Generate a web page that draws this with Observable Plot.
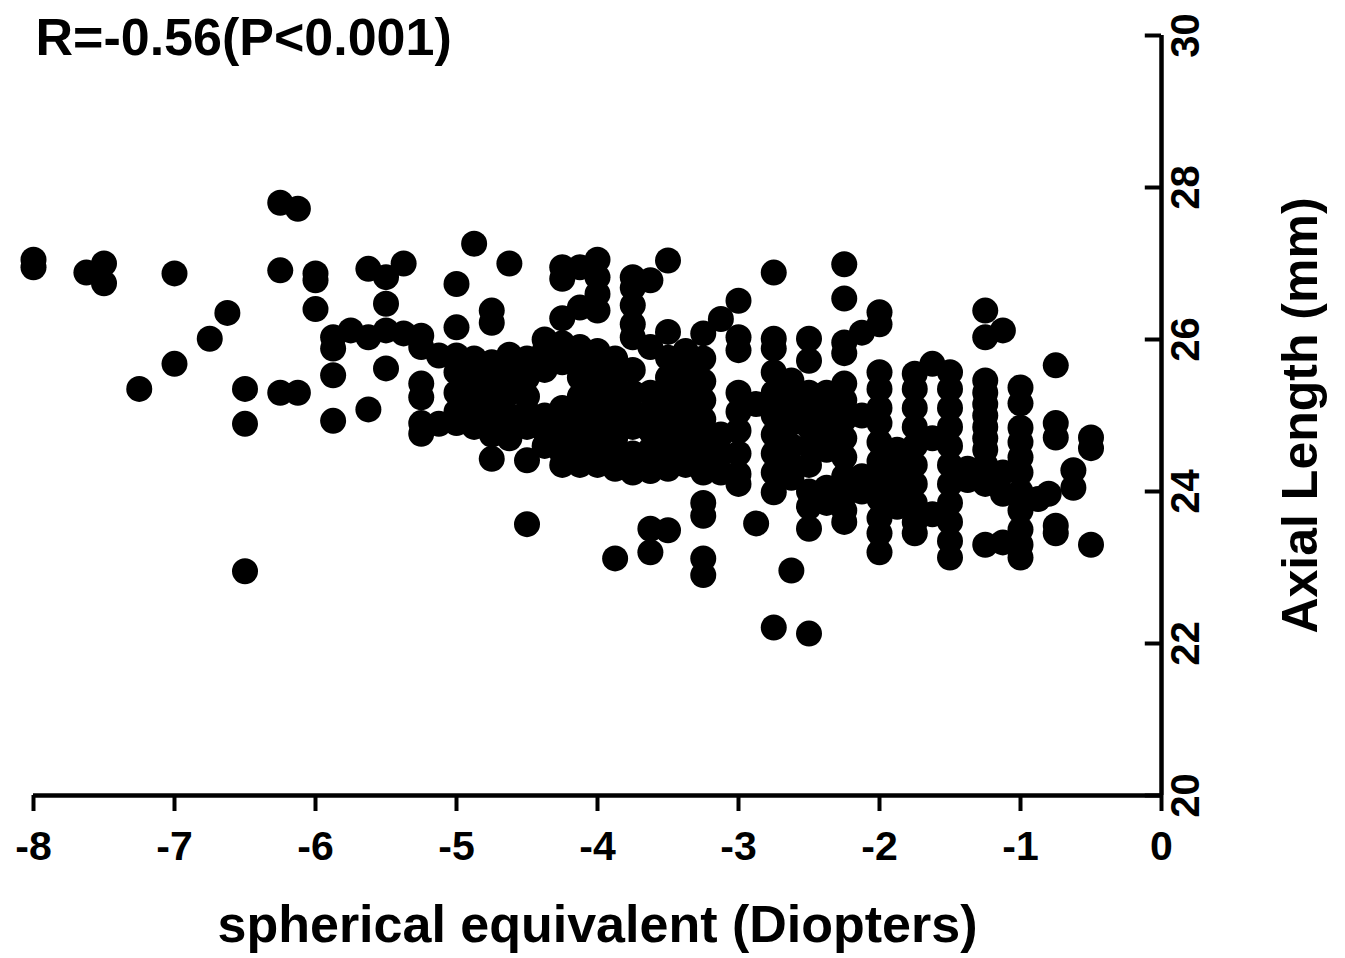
<!DOCTYPE html>
<html><head><meta charset="utf-8">
<script src="https://cdn.jsdelivr.net/npm/d3@7"></script>
<script src="https://cdn.jsdelivr.net/npm/@observablehq/plot@0.6"></script>
<style>body{margin:0;background:#fff} #chart svg{display:block}</style>
</head><body><div id="chart"></div>
<script>
// spherical equivalent (D) columns and the axial lengths (mm) read at each column
const seColumns = [-8, -7.625, -7.5, -7.25, -7, -6.75, -6.625, -6.5, -6.25, -6.125, -6,
  -5.875, -5.75, -5.625, -5.5, -5.375, -5.25, -5.125, -5, -4.875, -4.75, -4.625, -4.5,
  -4.375, -4.25, -4.125, -4, -3.875, -3.75, -3.625, -3.5, -3.375, -3.25, -3.125, -3,
  -2.875, -2.75, -2.625, -2.5, -2.375, -2.25, -2.125, -2, -1.875, -1.75, -1.625, -1.5,
  -1.375, -1.25, -1.125, -1, -0.875, -0.8, -0.75, -0.625, -0.5];
const axialByColumn = [
  [27.05, 26.95],
  [26.88],
  [27.0, 26.74],
  [25.35],
  [26.87, 25.68],
  [26.01],
  [26.35],
  [25.35, 24.89, 22.95],
  [27.8, 26.91, 25.3],
  [27.72, 25.3],
  [26.87, 26.78, 26.4],
  [26.03, 25.88, 25.53, 24.93],
  [26.12],
  [26.93, 26.03, 25.08],
  [26.82, 26.47, 26.12, 25.62],
  [27.0, 26.08],
  [26.05, 25.9, 25.42, 25.24, 24.9, 24.76],
  [25.79, 24.89],
  [26.73, 26.16, 25.79, 25.57, 25.3, 25.05, 24.9],
  [27.26, 25.75, 25.5, 25.2, 25.0, 24.85],
  [26.38, 26.22, 25.7, 25.5, 25.3, 25.1, 24.9, 24.75, 24.43],
  [27.0, 25.8, 25.55, 25.3, 25.0, 24.85, 24.7],
  [25.75, 25.5, 25.25, 25.05, 24.85, 24.41, 23.57],
  [26.0, 25.85, 25.6, 25.0, 24.8, 24.6],
  [26.95, 26.8, 26.28, 25.95, 25.7, 25.1, 24.9, 24.7, 24.5, 24.35],
  [26.95, 26.42, 25.9, 25.7, 25.5, 25.25, 25.0, 24.75, 24.55, 24.35],
  [27.05, 26.82, 26.6, 26.38, 25.85, 25.6, 25.35, 25.1, 24.85, 24.6, 24.35],
  [25.75, 25.5, 25.25, 25.0, 24.7, 24.45, 24.3, 23.12],
  [26.82, 26.68, 26.45, 26.2, 26.03, 25.6, 25.3, 25.05, 24.85, 24.5, 24.25],
  [26.78, 25.9, 25.3, 25.05, 24.8, 24.55, 24.27, 23.51, 23.2],
  [27.04, 26.1, 25.76, 25.5, 25.25, 25.0, 24.75, 24.5, 24.3, 23.49],
  [25.85, 25.55, 25.3, 25.05, 24.8, 24.55, 24.35],
  [26.08, 25.75, 25.45, 25.2, 24.95, 24.7, 24.45, 24.25, 23.85, 23.68, 23.12, 22.9],
  [26.27, 24.75, 24.5, 24.25],
  [26.51, 26.03, 25.86, 25.3, 25.05, 24.8, 24.5, 24.23, 24.1],
  [25.15, 23.58],
  [26.88, 26.01, 25.88, 25.57, 25.3, 25.0, 24.75, 24.5, 24.25, 23.99, 22.21],
  [25.46, 25.2, 24.9, 24.6, 24.35, 24.18, 22.96],
  [26.01, 25.72, 25.3, 25.1, 24.85, 24.6, 24.35, 24.0, 23.8, 23.51, 22.13],
  [25.3, 25.05, 24.8, 24.55, 24.05, 23.85],
  [26.99, 26.54, 25.96, 25.82, 25.42, 25.2, 24.95, 24.7, 24.45, 24.2, 23.95, 23.75, 23.6],
  [26.09, 25.0, 24.2, 24.0],
  [26.36, 26.2, 25.57, 25.35, 25.1, 24.9, 24.65, 24.4, 24.15, 23.9, 23.65, 23.45, 23.2],
  [24.55, 24.3, 24.05, 23.8],
  [25.55, 25.35, 25.1, 24.85, 24.6, 24.35, 24.1, 23.85, 23.6, 23.45],
  [25.68, 24.7, 23.7],
  [25.57, 25.35, 25.1, 24.85, 24.6, 24.35, 24.1, 23.85, 23.6, 23.35, 23.13],
  [24.3, 24.15],
  [26.38, 26.03, 25.46, 25.3, 25.15, 25.0, 24.85, 24.7, 24.55, 24.35, 24.1, 23.3],
  [26.12, 24.25, 23.97, 23.33],
  [25.37, 25.16, 24.84, 24.65, 24.45, 24.25, 24.0, 23.75, 23.5, 23.3, 23.13],
  [23.9],
  [23.97],
  [25.66, 24.9, 24.71, 23.55, 23.45],
  [24.28, 24.05],
  [24.71, 24.57, 23.3]
];
const xTicks = [-8, -7, -6, -5, -4, -3, -2, -1, 0];
const yTicks = [20, 22, 24, 26, 28, 30];
const titleText = "R=-0.56(P<0.001)";
const xLabel = "spherical equivalent (Diopters)";
const yLabel = "Axial Length (mm)";

const points = seColumns.flatMap((se, i) => axialByColumn[i].map(al => ({se, al})));

const chart = Plot.plot({
  width: 1345, height: 958,
  marginLeft: 33, marginRight: 184, marginTop: 35, marginBottom: 163,
  style: {fontFamily: "'Liberation Sans', Arial, Helvetica, sans-serif", background: "#fff", color: "#000"},
  x: {domain: [-8, 0]},
  y: {domain: [20, 30]},
  marks: [
    Plot.dot(points, {x: "se", y: "al", r: 13, fill: "#000", stroke: "none"}),
    Plot.ruleY([20], {stroke: "#000", strokeWidth: 4.5}),
    Plot.ruleX([0], {stroke: "#000", strokeWidth: 4.5}),
    Plot.ruleY(yTicks, {x1: -0.115, x2: 0, stroke: "#000", strokeWidth: 4}),
    Plot.axisX({ticks: xTicks, tickSize: 16, strokeWidth: 4, tickPadding: 19, tickFormat: d => String(d),
      fontSize: 41, fontWeight: "bold", label: null, lineAnchor: "top"}),
    Plot.axisY({anchor: "right", ticks: yTicks, tickSize: 0, tickPadding: 9, tickRotate: -90,
      lineAnchor: "top", fontSize: 40, fontWeight: "bold", label: null}),
    Plot.text([xLabel], {frameAnchor: "bottom", dy: 146, fontSize: 52, fontWeight: "bold", text: d => d}),
    Plot.text([yLabel], {frameAnchor: "right", textAnchor: "middle", dx: 139, rotate: -90, fontSize: 50, fontWeight: "bold", text: d => d}),
    Plot.text([titleText], {frameAnchor: "top-left", dx: 2, dy: -17, fontSize: 52, fontWeight: "bold", textAnchor: "start", text: d => d})
  ]
});
document.getElementById("chart").appendChild(chart);
</script>
</body></html>
